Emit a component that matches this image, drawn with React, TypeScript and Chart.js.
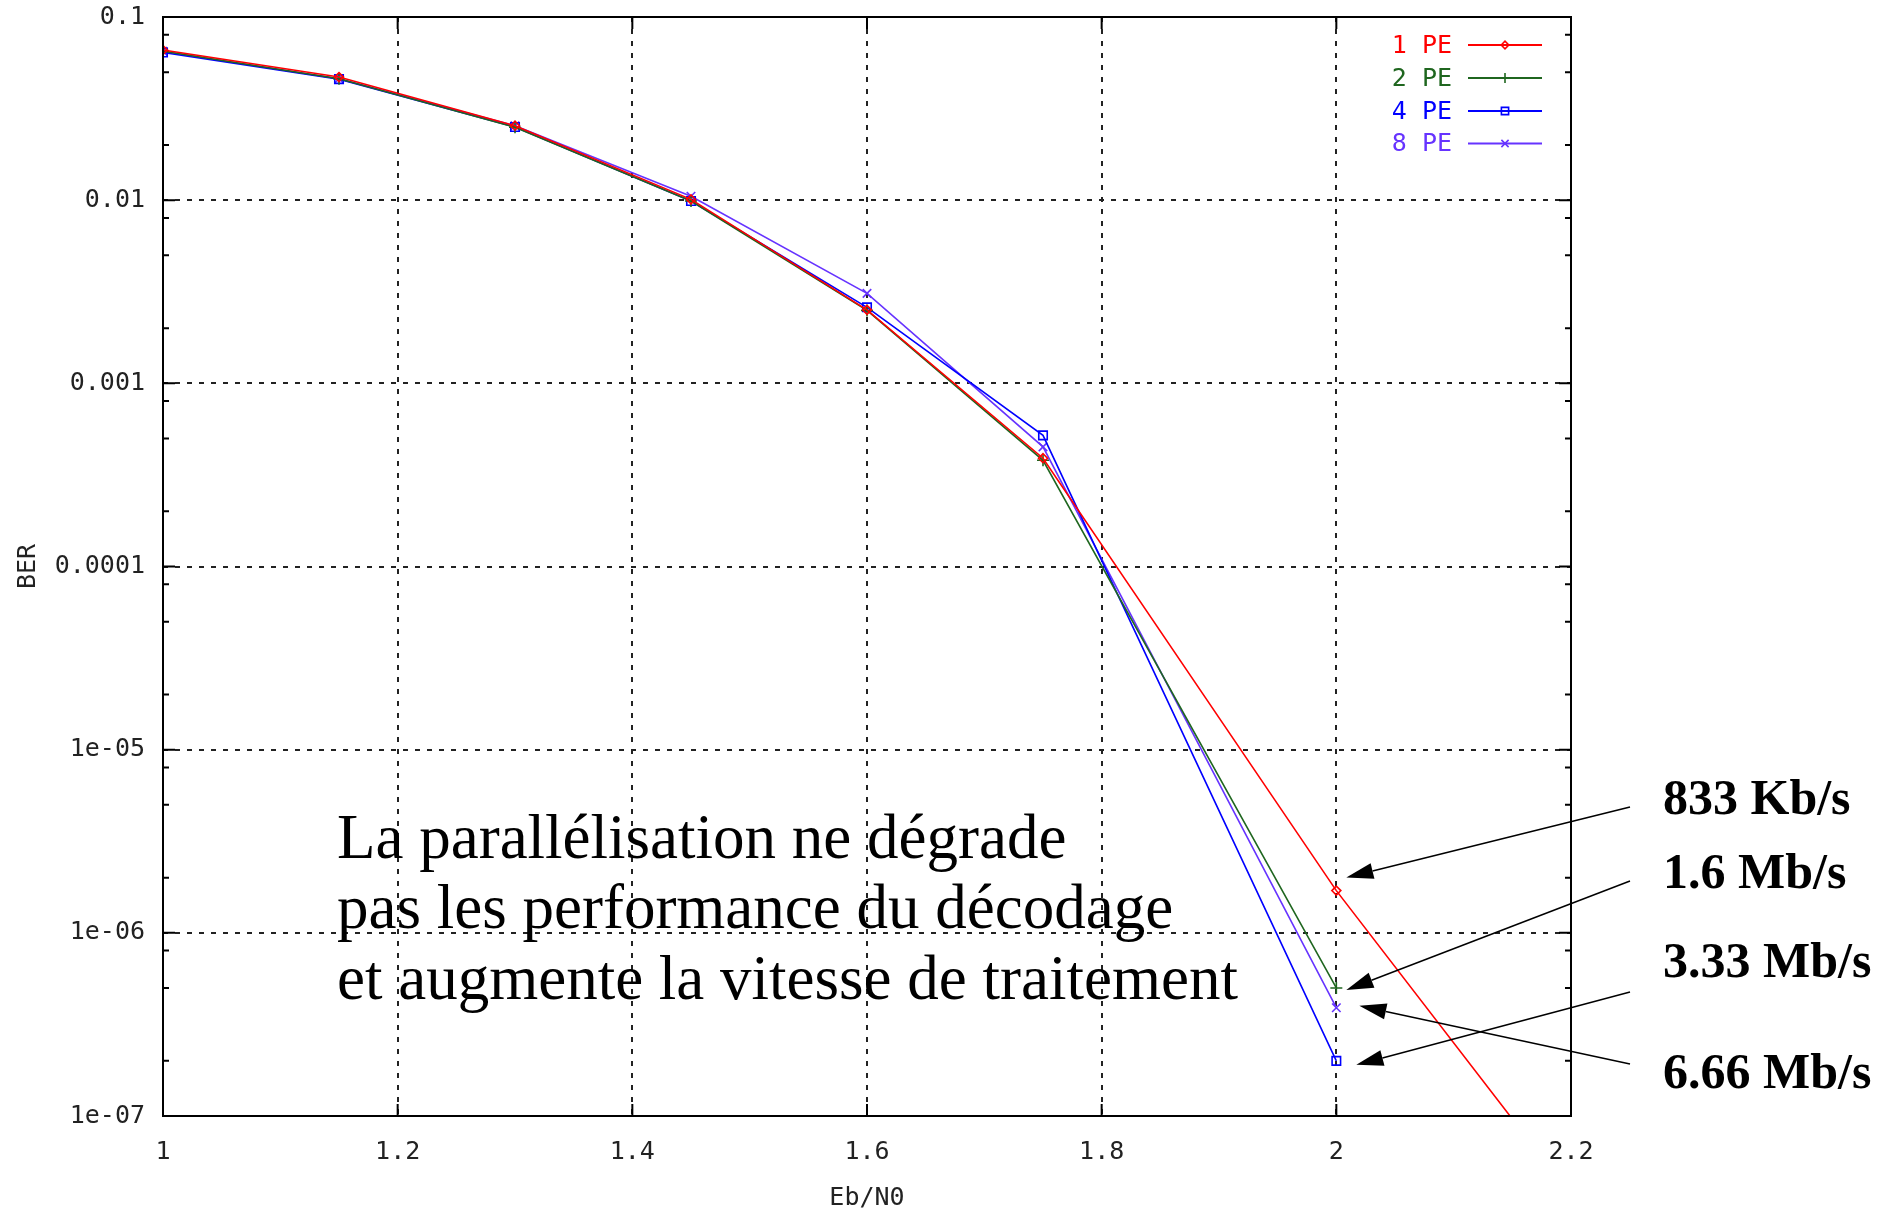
import React, { useEffect, useRef } from 'react';
import { Chart, registerables } from 'chart.js';
import { drawPoint } from 'chart.js/helpers';

Chart.register(...registerables);

// ---- data ----
const ebN0 = [1, 1.15, 1.3, 1.45, 1.6, 1.75, 2];
const ebN0With1PETail = [1, 1.15, 1.3, 1.45, 1.6, 1.75, 2, 2.2];
const ber1PE = [0.066, 0.047, 0.0255, 0.0101, 0.00252, 0.00039, 1.7e-6, 3.7e-8];
const ber2PE = [0.065, 0.046, 0.025, 0.0099, 0.0025, 0.00038, 5.0e-7];
const ber4PE = [0.064, 0.0458, 0.0251, 0.0099, 0.0026, 0.00052, 2.0e-7];
const ber8PE = [0.065, 0.046, 0.0255, 0.0105, 0.0031, 0.00045, 3.9e-7];
const seriesLabels = ['1 PE', '2 PE', '4 PE', '8 PE'];

const xTickValues = [1, 1.2, 1.4, 1.6, 1.8, 2, 2.2];
const xTickLabels = ['1', '1.2', '1.4', '1.6', '1.8', '2', '2.2'];
const yTickValues = [1e-7, 1e-6, 1e-5, 1e-4, 1e-3, 1e-2, 1e-1];
const yTickLabels = ['1e-07', '1e-06', '1e-05', '0.0001', '0.001', '0.01', '0.1'];
const yMinorMantissas = [2, 5, 8];

const xTitle = 'Eb/N0';
const yTitle = 'BER';

const noteLines = [
  'La parallélisation ne dégrade',
  'pas les performance du décodage',
  'et augmente la vitesse de traitement',
];
const rateLabels = ['833 Kb/s', '1.6 Mb/s', '3.33 Mb/s', '6.66 Mb/s'];
const rateTargetSeries = [0, 1, 2, 3];
const rateTargetX = 2;

// ---- styles / layout ----
const colors = ['#ff0000', '#1f661f', '#0000ff', '#6633ff'];
const pointStyles = ['rectRot', 'cross', 'rect', 'crossRot'];
const pointRadii = [4.5, 6, 6, 6];
const monoFont = "'DejaVu Sans Mono', monospace";
const serifFont = "'Liberation Serif', 'Times New Roman', serif";

const W = 1887;
const H = 1212;
const plotBox = { left: 163, right: 1571, top: 17, bottom: 1116 };
const notePos = { x: 337, baselines: [858, 928, 999], size: 63 };
const ratePos = { x: 1663, baselines: [814, 888, 977, 1088], size: 50 };
const arrowTails = [
  [1630, 807],
  [1630, 881],
  [1630, 992],
  [1630, 1064],
];
const arrowTipOffsets = [
  [10, -13],
  [10, 2],
  [20, 4],
  [23, -2],
];
const legendPos = { textRight: 1452, lineX0: 1468, lineX1: 1542, rows: [45, 78, 111, 143.5] };

function toXY(xs: number[], ys: number[]) {
  return ys.map((y, i) => ({ x: xs[i], y }));
}

const framePlugin = {
  id: 'frameAndTicks',
  afterDatasetsDraw(chart: any) {
    const { ctx, chartArea } = chart;
    const { left, right, top, bottom } = chartArea;
    const xs = chart.scales.x;
    const ys = chart.scales.y;
    ctx.save();
    ctx.strokeStyle = '#000';
    ctx.lineWidth = 2;
    ctx.setLineDash([]);
    ctx.beginPath();
    for (let e = -7; e <= -1; e++) {
      const major = Math.pow(10, e);
      const py = ys.getPixelForValue(major);
      ctx.moveTo(left, py);
      ctx.lineTo(left + 12, py);
      ctx.moveTo(right, py);
      ctx.lineTo(right - 12, py);
      if (e < -1) {
        for (const m of yMinorMantissas) {
          const v = m * major;
          const pm = ys.getPixelForValue(v);
          ctx.moveTo(left, pm);
          ctx.lineTo(left + 6, pm);
          ctx.moveTo(right, pm);
          ctx.lineTo(right - 6, pm);
        }
      }
    }
    for (const v of xTickValues) {
      const px = xs.getPixelForValue(v);
      ctx.moveTo(px, bottom);
      ctx.lineTo(px, bottom - 12);
      ctx.moveTo(px, top);
      ctx.lineTo(px, top + 12);
    }
    ctx.stroke();
    ctx.strokeRect(left, top, right - left, bottom - top);
    ctx.restore();
  },
};

const annotationPlugin = {
  id: 'annotations',
  afterDraw(chart: any) {
    const { ctx } = chart;
    ctx.save();
    // legend
    ctx.font = `25px ${monoFont}`;
    ctx.textAlign = 'right';
    ctx.textBaseline = 'middle';
    chart.data.datasets.forEach((ds: any, i: number) => {
      const y = legendPos.rows[i];
      ctx.fillStyle = ds.borderColor;
      ctx.fillText(seriesLabels[i], legendPos.textRight, y + 1);
      ctx.strokeStyle = ds.borderColor;
      ctx.lineWidth = 2;
      ctx.beginPath();
      ctx.moveTo(legendPos.lineX0, y);
      ctx.lineTo(legendPos.lineX1, y);
      ctx.stroke();
      ctx.lineWidth = 1.6;
      ctx.fillStyle = 'rgba(0,0,0,0)';
      drawPoint(ctx, { pointStyle: ds.pointStyle, radius: pointRadii[i] * 0.85, rotation: 0, borderWidth: 1.6 } as any,
        (legendPos.lineX0 + legendPos.lineX1) / 2, y);
    });

    // note text
    ctx.fillStyle = '#000';
    ctx.textAlign = 'left';
    ctx.textBaseline = 'alphabetic';
    ctx.font = `${notePos.size}px ${serifFont}`;
    noteLines.forEach((t, i) => ctx.fillText(t, notePos.x, notePos.baselines[i]));

    // rate labels
    ctx.font = `bold ${ratePos.size}px ${serifFont}`;
    rateLabels.forEach((t, i) => ctx.fillText(t, ratePos.x, ratePos.baselines[i]));

    // arrows
    const xs = chart.scales.x;
    const ys = chart.scales.y;
    const seriesY = [ber1PE[6], ber2PE[6], ber4PE[6], ber8PE[6]];
    rateTargetSeries.forEach((s, i) => {
      const px = xs.getPixelForValue(rateTargetX) + arrowTipOffsets[i][0];
      const py = ys.getPixelForValue(seriesY[s]) + arrowTipOffsets[i][1];
      const [tx, ty] = arrowTails[i];
      const ang = Math.atan2(py - ty, px - tx);
      const headLen = 27;
      const headHalf = 8;
      const bx = px - headLen * Math.cos(ang);
      const by = py - headLen * Math.sin(ang);
      ctx.strokeStyle = '#000';
      ctx.lineWidth = 1.5;
      ctx.beginPath();
      ctx.moveTo(tx, ty);
      ctx.lineTo(bx, by);
      ctx.stroke();
      ctx.fillStyle = '#000';
      ctx.beginPath();
      ctx.moveTo(px, py);
      ctx.lineTo(bx + headHalf * Math.sin(ang), by - headHalf * Math.cos(ang));
      ctx.lineTo(bx - headHalf * Math.sin(ang), by + headHalf * Math.cos(ang));
      ctx.closePath();
      ctx.fill();
    });
    ctx.restore();
  },
};

export default function App() {
  const canvasRef = useRef<HTMLCanvasElement | null>(null);

  useEffect(() => {
    const canvas = canvasRef.current;
    if (!canvas) return;
    const seriesData = [
      toXY(ebN0With1PETail, ber1PE),
      toXY(ebN0, ber2PE),
      toXY(ebN0, ber4PE),
      toXY(ebN0, ber8PE),
    ];
    const datasets = seriesData.map((data, i) => ({
      label: seriesLabels[i],
      data,
      borderColor: colors[i],
      backgroundColor: colors[i],
      borderWidth: 1.6,
      pointStyle: pointStyles[i],
      pointRadius: data.map((p) => (p.x > 2.1 ? 0 : pointRadii[i])),
      pointBorderWidth: 1.6,
      pointBackgroundColor: 'rgba(0,0,0,0)',
      pointBorderColor: colors[i],
      tension: 0,
      fill: false,
    }));

    const tickFont = { family: monoFont, size: 25 };
    const chart = new Chart(canvas, {
      type: 'line',
      data: { datasets },
      options: {
        animation: false,
        responsive: false,
        devicePixelRatio: 1,
        layout: {
          padding: { left: plotBox.left - 163, right: W - plotBox.right, top: plotBox.top, bottom: 0 },
        },
        plugins: { legend: { display: false }, tooltip: { enabled: false } },
        scales: {
          x: {
            type: 'linear',
            min: 1,
            max: 2.2,
            afterFit: (s: any) => {
              s.height = H - plotBox.bottom;
              s.paddingLeft = 0;
              s.paddingRight = 0;
            },
            afterBuildTicks: (s: any) => { s.ticks = xTickValues.map((v) => ({ value: v })); },
            ticks: {
              font: tickFont,
              color: '#222',
              padding: 21,
              maxRotation: 0,
              callback: (v: any) => {
                const i = xTickValues.findIndex((t) => Math.abs(t - Number(v)) < 1e-6);
                return i >= 0 ? xTickLabels[i] : '';
              },
            },
            grid: { color: '#222', lineWidth: 2, drawTicks: false },
            border: { display: false, dash: [5, 7] },
            title: {
              display: true,
              text: xTitle,
              font: { family: monoFont, size: 25, lineHeight: 1 },
              color: '#222',
              padding: { top: 0, bottom: 1 },
            },
          },
          y: {
            type: 'logarithmic',
            min: 1e-7,
            max: 0.1,
            afterFit: (s: any) => {
              s.width = 163;
              s.paddingTop = 0;
              s.paddingBottom = 0;
            },
            afterBuildTicks: (s: any) => { s.ticks = yTickValues.map((v) => ({ value: v, major: true })); },
            ticks: {
              font: tickFont,
              color: '#222',
              padding: 18,
              callback: (v: any) => {
                const i = yTickValues.findIndex((t) => Math.abs(Math.log10(t) - Math.log10(Number(v))) < 1e-6);
                return i >= 0 ? yTickLabels[i] : '';
              },
            },
            grid: { color: '#222', lineWidth: 2, drawTicks: false },
            border: { display: false, dash: [5, 7] },
            title: {
              display: true,
              text: yTitle,
              font: { family: monoFont, size: 25, lineHeight: 1.2 },
              color: '#222',
              padding: { top: 13, bottom: 0 },
            },
          },
        },
      },
      plugins: [framePlugin, annotationPlugin],
    } as any);
    return () => chart.destroy();
  }, []);

  return (
    <div style={{ position: 'fixed', left: 0, top: 0, width: W, height: H, background: '#fff' }}>
      <canvas ref={canvasRef} width={W} height={H} style={{ display: 'block', width: W, height: H }} />
    </div>
  );
}
